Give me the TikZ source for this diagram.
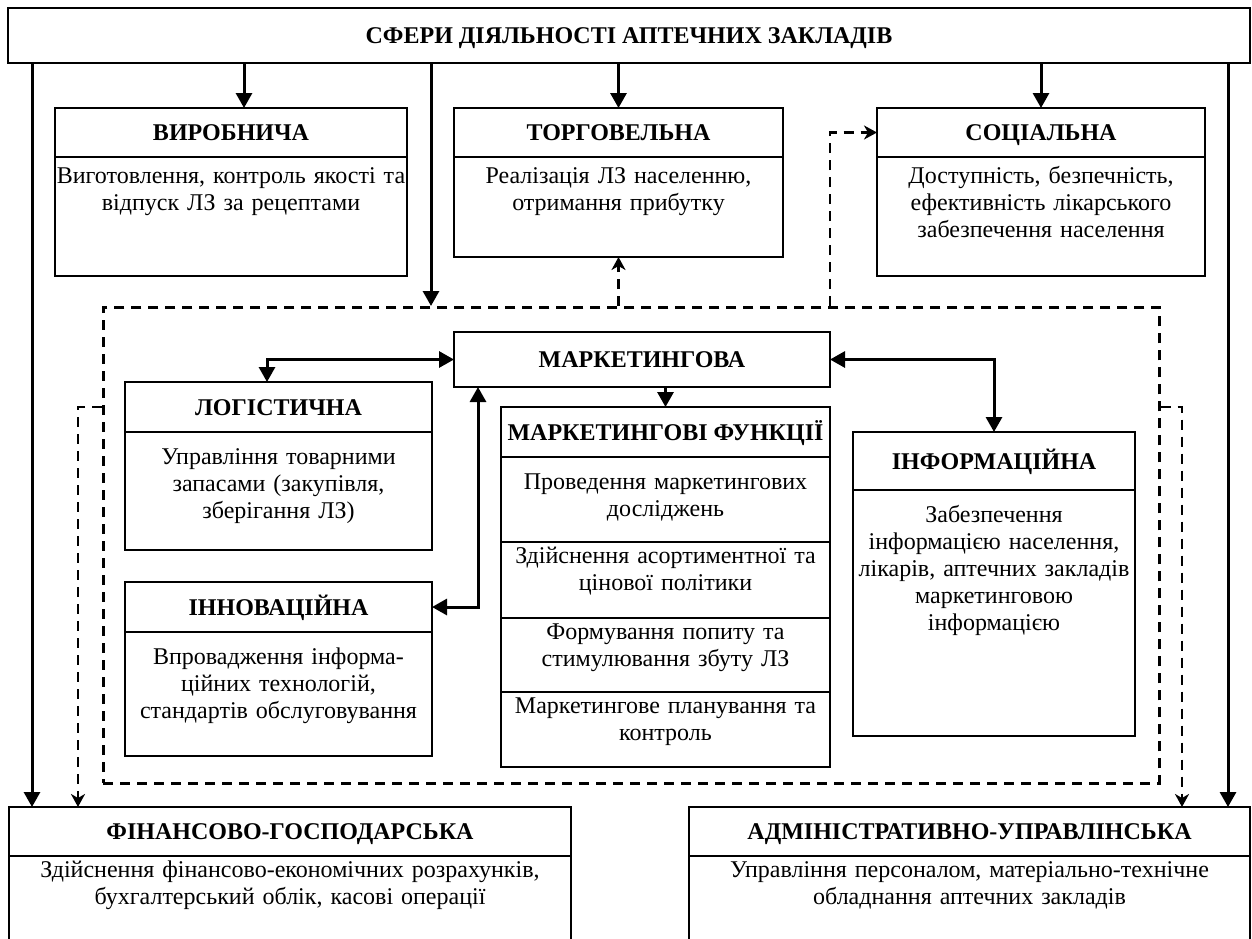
\documentclass[tikz,border=0pt]{standalone}
\usepackage{fontspec}
\setmainfont{Liberation Serif}
\usetikzlibrary{positioning,arrows.meta}
\tikzset{
sphere/.style={draw, line width=0.9pt, inner sep=0pt, outer sep=0pt, align=center,
  font=\bfseries\fontsize{12}{14}\selectfont,
  text height=9pt, text depth=1pt}, % title cell of a sphere
body/.style={draw, line width=0.9pt, inner sep=0pt, outer sep=0pt, align=center,
  font=\fontsize{12}{13.5}\selectfont}, % text goes to the top, set text height/depth
zone/.style={draw, dash pattern=on 5pt off 3.5pt, line width=1.3pt}, % marketing area
arr/.style={->, >={Triangle[length=7.5pt,width=8pt]}, line width=1.5pt},
arr2/.style={<->, >={Triangle[length=7.5pt,width=8pt]}, line width=1.5pt},
darr/.style={->, >={Stealth[length=6.5pt,width=7pt,inset=2pt]},
  dash pattern=on 5pt off 3.5pt, line width=1.3pt}
}
\begin{document}
\begin{tikzpicture}[x=0.5pt, y=-0.5pt]
  \useasboundingbox (0,0) rectangle (1252,938);
  \node[sphere, anchor=north west, minimum width=621pt, minimum height=27.5pt] (main) at (8,8)
    {СФЕРИ ДІЯЛЬНОСТІ АПТЕЧНИХ ЗАКЛАДІВ};
  % upper row
  \node[sphere, anchor=north west, minimum width=176pt, minimum height=24.5pt] (vyrH) at (55,108) {ВИРОБНИЧА};
  \node[body, below=0pt of vyrH, text width=176pt, text height=13pt, text depth=46.5pt] (vyrB)
    {Виготовлення, контроль якості та\\відпуск ЛЗ за рецептами};
  \node[sphere, anchor=north west, minimum width=164.5pt, minimum height=24.5pt] (torH) at (454,108) {ТОРГОВЕЛЬНА};
  \node[body, below=0pt of torH, text width=164.5pt, text height=13pt, text depth=37pt] (torB)
    {Реалізація ЛЗ населенню,\\отримання прибутку};
  \node[sphere, anchor=north west, minimum width=164pt, minimum height=24.5pt] (socH) at (877,108) {СОЦІАЛЬНА};
  \node[body, below=0pt of socH, text width=164pt, text height=13pt, text depth=46.5pt] (socB)
    {Доступність, безпечність,\\ефективність лікарського\\забезпечення населення};
  % marketing area
  \node[zone, anchor=north west, minimum width=528pt, minimum height=238pt] (mzone) at (102,306) {};
  \node[sphere, anchor=north west, minimum width=188pt, minimum height=27.5pt] (mark) at (454,332) {МАРКЕТИНГОВА};
  \node[sphere, anchor=north west, minimum width=153.5pt, minimum height=25pt] (logH) at (125,382) {ЛОГІСТИЧНА};
  \node[body, below=0pt of logH, text width=153.5pt, text height=16pt, text depth=43pt] (logB)
    {Управління товарними\\запасами (закупівля,\\зберігання ЛЗ)};
  \node[sphere, anchor=north west, minimum width=153.5pt, minimum height=25pt] (innH) at (125,582) {ІННОВАЦІЙНА};
  \node[body, below=0pt of innH, text width=153.5pt, text height=16pt, text depth=46pt] (innB)
    {Впровадження інформа-\\ційних технологій,\\стандартів обслуговування};
  \node[sphere, anchor=north west, minimum width=164.5pt, minimum height=25pt] (funH) at (501,407) {МАРКЕТИНГОВІ ФУНКЦІЇ};
  \node[body, below=0pt of funH, text width=164.5pt, text height=16pt, text depth=26.5pt] (fun1)
    {Проведення маркетингових\\досліджень};
  \node[body, below=0pt of fun1, text width=164.5pt, text height=10.5pt, text depth=27.5pt] (fun2)
    {Здійснення асортиментної та\\цінової політики};
  \node[body, below=0pt of fun2, text width=164.5pt, text height=10.5pt, text depth=26.5pt] (fun3)
    {Формування попиту та\\стимулювання збуту ЛЗ};
  \node[body, below=0pt of fun3, text width=164.5pt, text height=10.5pt, text depth=27pt] (fun4)
    {Маркетингове планування та\\контроль};
  \node[sphere, anchor=north west, minimum width=141pt, minimum height=29pt] (infH) at (853,432) {ІНФОРМАЦІЙНА};
  \node[body, below=0pt of infH, text width=141pt, text height=16pt, text depth=107pt] (infB)
    {Забезпечення\\інформацією населення,\\лікарів, аптечних закладів\\маркетинговою\\інформацією};
  % lower row
  \node[sphere, anchor=north west, minimum width=281pt, minimum height=24.5pt] (finH) at (9,807) {ФІНАНСОВО-ГОСПОДАРСЬКА};
  \node[body, below=0pt of finH, text width=281pt, text height=10.5pt, text depth=49.5pt] (finB)
    {Здійснення фінансово-економічних розрахунків,\\бухгалтерський облік, касові операції};
  \node[sphere, anchor=north west, minimum width=280.5pt, minimum height=24.5pt] (admH) at (689,807) {АДМІНІСТРАТИВНО-УПРАВЛІНСЬКА};
  \node[body, below=0pt of admH, text width=280.5pt, text height=10.5pt, text depth=49.5pt] (admB)
    {Управління персоналом, матеріально-технічне\\обладнання аптечних закладів};
  % connectors
  \draw[arr] (main.south -| 32,0) -- (finH.north -| 32,0);
  \draw[arr] (main.south -| 244,0) -- (vyrH.north -| 244,0);
  \draw[arr] (main.south -| 431,0) -- (mzone.north -| 431,0);
  \draw[arr] (main.south -| torH.north) -- (torH.north);
  \draw[arr] (main.south -| 1041,0) -- (socH.north -| 1041,0);
  \draw[arr] (main.south -| 1228,0) -- (admH.north -| 1228,0);
  \draw[darr] (mzone.north -| torB.south) -- (torB.south);
  \draw[darr] (mzone.north -| 830,0) |- (socH.west);
  \draw[darr] (mzone.west |- 0,407) -| (finH.north -| 78,0);
  \draw[darr] (mzone.east |- 0,407) -| (admH.north -| 1182,0);
  \draw[arr2] (mark.west) -| (logH.north -| 267,0);
  \draw[arr2] (mark.south -| 478,0) |- (innH.east);
  \draw[arr] (mark.south -| funH.north) -- (funH.north);
  \draw[arr2] (mark.east) -| (infH.north);
\end{tikzpicture}
\end{document}
